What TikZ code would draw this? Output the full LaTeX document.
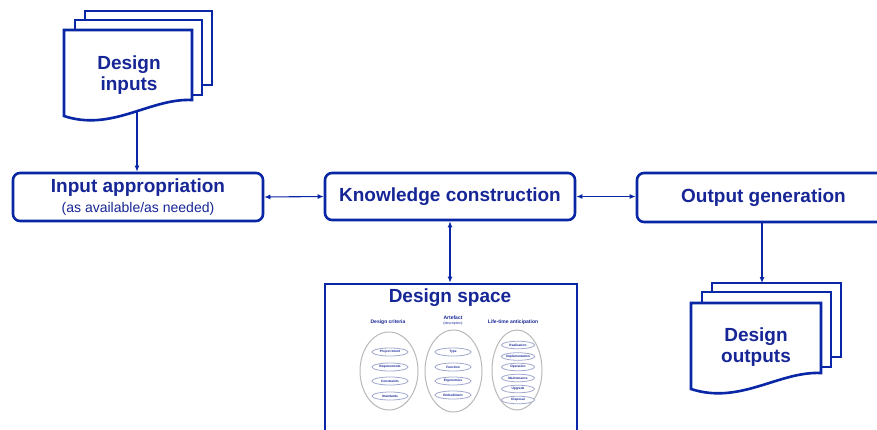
\documentclass[tikz,border=0pt]{standalone}
\usepackage{fontspec}
\setmainfont{Liberation Sans}
\usetikzlibrary{arrows.meta,shapes.geometric}
\definecolor{bl}{RGB}{8,38,165}
\definecolor{tx}{RGB}{22,38,150}
\definecolor{sm}{RGB}{160,168,205}
\begin{document}
\begin{tikzpicture}[x=1pt,y=-1pt,
  box/.style={draw=bl,line width=2.6pt,rounded corners=7pt,fill=white,inner sep=0pt},
  doc/.style={draw=bl,line width=2.6pt,fill=white,line join=miter},
  conn/.style={draw=bl,line width=1.1pt,-{Latex[length=6pt,width=5pt]}},
  bconn/.style={draw=bl,line width=1.1pt,{Latex[length=6pt,width=5pt]}-{Latex[length=6pt,width=5pt]}},
  big/.style={font=\bfseries\fontsize{19}{21.5}\selectfont,text=tx},
  sub/.style={font=\fontsize{14}{16}\selectfont,text=tx},
  bigell/.style={ellipse,draw=gray!55,line width=1pt,fill=white,inner sep=0pt},
  smell/.style={ellipse,draw=sm,line width=0.8pt,fill=white,inner sep=0pt,minimum width=36pt,minimum height=8pt,font=\bfseries\fontsize{3.2}{4}\selectfont,text=tx},
  head/.style={font=\bfseries\fontsize{5}{6}\selectfont,text=tx,inner sep=0pt},
  tiny/.style={font=\fontsize{3.5}{4}\selectfont,text=tx,inner sep=0pt}
]
\clip (0,0) rectangle (877,429);
\fill[white] (0,0) rectangle (877,429);

% main boxes
\node[box,minimum width=250pt,minimum height=48pt] (inp) at (138,197) {};
\node[big,inner sep=0pt] (inpt) at (138,188) {Input appropriation};
\node[sub,inner sep=0pt] (inps) at (138,209) {(as available/as needed)};
\node[box,big,minimum width=250pt,minimum height=47pt] (kc) at (450,196.5) {Knowledge construction};
\node[box,big,minimum width=253pt,minimum height=49pt] (og) at (763.5,197.5) {Output generation};

% design space
\node[draw=bl,line width=2.6pt,fill=white,minimum width=252pt,minimum height=160pt] (ds) at (451,364) {};
\node[big,inner sep=0pt] (dst) at (450,298) {Design space};

\node[head] (h1) at (388,322) {Design criteria};
\node[head] (h2) at (453,318) {Artefact};
\node[tiny] (h2b) at (453,324) {(description)};
\node[head] (h3) at (513,322) {Life-time anticipation};

\node[bigell,minimum width=58pt,minimum height=78pt] (e1) at (389,371) {};
\node[bigell,minimum width=57pt,minimum height=82pt] (e2) at (453.5,371) {};
\node[bigell,minimum width=50pt,minimum height=80pt] (e3) at (517,370) {};

\node[smell] (a1) at (390,352) {Project intent};
\node[smell] (a2) at (390,367) {Requirements};
\node[smell] (a3) at (390,381) {Constraints};
\node[smell] (a4) at (390,396) {Standards};

\node[smell] (b1) at (453,352) {Type};
\node[smell] (b2) at (453,367) {Function};
\node[smell] (b3) at (453,381) {Ergonomics};
\node[smell] (b4) at (453,395) {Embodiment};

\node[smell,minimum width=33pt,minimum height=7.5pt] (c1) at (518,345) {Realisation};
\node[smell,minimum width=33pt,minimum height=7.5pt] (c2) at (518,356.5) {Implementation};
\node[smell,minimum width=33pt,minimum height=7.5pt] (c3) at (518,367) {Operation};
\node[smell,minimum width=33pt,minimum height=7.5pt] (c4) at (518,378) {Maintenance};
\node[smell,minimum width=33pt,minimum height=7.5pt] (c5) at (518,389) {Upgrade};
\node[smell,minimum width=33pt,minimum height=7.5pt] (c6) at (518,400) {Disposal};

% connectors
\coordinate (din) at (137,110);
\coordinate (dout) at (762,283);
\draw[conn] (din) -- (din |- inp.north);
\draw[bconn] (inp.east) -- (kc.west);
\draw[bconn] (kc.east) -- (kc.east -| og.west);
\draw[bconn] (kc.south) -- (kc.south |- ds.north);
\draw[conn] (dout |- og.south) -- (dout);

% design inputs stack
\draw[doc] (85,11) rectangle (212,85);
\draw[doc] (75,20) rectangle (202,95);
\draw[doc] (64,30) -- (192,30) -- (192,100) .. controls (150,98) and (112,132) .. (64,116) -- cycle;
\node[big,align=center,inner sep=0pt] (dit) at (129,75) {Design\\inputs};

% design outputs stack
\draw[doc] (712,283) rectangle (841,357);
\draw[doc] (702,292) rectangle (831,367);
\draw[doc] (691,303) -- (821,303) -- (821,373) .. controls (779,371) and (740,405) .. (691,389) -- cycle;
\node[big,align=center,inner sep=0pt] (dot) at (756,347) {Design\\outputs};
\end{tikzpicture}
\end{document}
